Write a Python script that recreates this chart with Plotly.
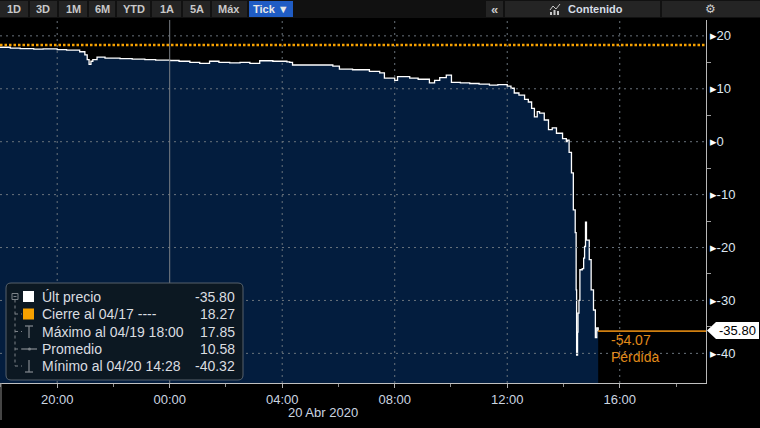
import plotly.graph_objects as go

# ---------------- data ----------------
times = [
    "2020-04-19 17:58", "2020-04-19 18:20", "2020-04-19 18:41", "2020-04-19 19:10", "2020-04-19 19:30",
    "2020-04-19 20:00", "2020-04-19 20:20", "2020-04-19 20:48", "2020-04-19 20:59", "2020-04-19 21:04",
    "2020-04-19 21:08", "2020-04-19 21:12", "2020-04-19 21:16", "2020-04-19 21:25", "2020-04-19 21:42",
    "2020-04-19 22:14", "2020-04-19 22:40", "2020-04-19 23:07", "2020-04-19 23:30", "2020-04-20 00:00",
    "2020-04-20 00:20", "2020-04-20 00:43", "2020-04-20 01:04", "2020-04-20 01:25", "2020-04-20 01:45",
    "2020-04-20 02:08", "2020-04-20 02:30", "2020-04-20 02:51", "2020-04-20 03:12", "2020-04-20 03:40",
    "2020-04-20 04:10", "2020-04-20 04:16", "2020-04-20 04:22", "2020-04-20 05:00", "2020-04-20 05:48",
    "2020-04-20 06:02", "2020-04-20 06:30", "2020-04-20 07:06", "2020-04-20 07:28", "2020-04-20 07:38",
    "2020-04-20 08:00", "2020-04-20 08:06", "2020-04-20 08:32", "2020-04-20 08:50", "2020-04-20 09:14",
    "2020-04-20 09:25", "2020-04-20 09:36", "2020-04-20 09:50", "2020-04-20 10:01", "2020-04-20 10:20",
    "2020-04-20 10:40", "2020-04-20 11:00", "2020-04-20 11:22", "2020-04-20 11:40", "2020-04-20 12:00",
    "2020-04-20 12:08", "2020-04-20 12:15", "2020-04-20 12:25", "2020-04-20 12:37", "2020-04-20 12:45",
    "2020-04-20 12:52", "2020-04-20 12:58", "2020-04-20 13:04", "2020-04-20 13:09", "2020-04-20 13:19",
    "2020-04-20 13:28", "2020-04-20 13:36", "2020-04-20 13:45", "2020-04-20 13:58", "2020-04-20 14:06",
    "2020-04-20 14:08", "2020-04-20 14:12", "2020-04-20 14:17", "2020-04-20 14:21", "2020-04-20 14:25",
    "2020-04-20 14:27", "2020-04-20 14:28", "2020-04-20 14:30", "2020-04-20 14:31", "2020-04-20 14:33",
    "2020-04-20 14:35", "2020-04-20 14:40", "2020-04-20 14:43", "2020-04-20 14:45", "2020-04-20 14:47",
    "2020-04-20 14:49", "2020-04-20 14:55", "2020-04-20 14:59", "2020-04-20 15:04", "2020-04-20 15:08",
    "2020-04-20 15:11", "2020-04-20 15:14",
]
prices = [
    17.85, 17.7, 17.6, 17.5, 17.55,
    17.4, 17.3, 17.0, 16.4, 15.5,
    14.6, 15.2, 15.5, 16.0, 15.8,
    15.7, 15.6, 15.5, 15.4, 15.35,
    15.2, 15.0, 14.8, 15.2, 15.0,
    14.9, 15.0, 14.8, 15.3, 15.2,
    15.1, 15.0, 14.5, 14.5, 14.3,
    13.7, 13.6, 13.3, 13.0, 12.0,
    11.6, 12.3, 12.0, 11.8, 11.1,
    11.6, 12.1, 12.6, 11.2, 11.1,
    11.0, 10.9, 10.7, 10.8, 10.5,
    10.1, 9.2, 8.8, 8.0, 7.5,
    6.3, 4.7, 5.7, 5.4, 4.1,
    2.3, 2.6, 1.6, 0.6, 0.0,
    0.3, -2.0, -5.9, -12.9, -17.2,
    -28.0, -40.32, -36.0, -32.4, -30.0,
    -24.2, -24.0, -22.0, -19.8, -15.2,
    -18.6, -22.3, -28.0, -31.8, -37.0,
    -35.2, -35.80,
]
last_price = -35.80
prev_close = 18.27
net_change = -54.07

legend_labels = ["Últ precio", "Cierre al 04/17 ----", "Máximo al 04/19 18:00", "Promedio", "Mínimo al 04/20 14:28"]
legend_values = ["-35.80", "18.27", "17.85", "10.58", "-40.32"]

y_ticks = [20, 10, 0, -10, -20, -30, -40]
y_minor = [15, 5, -5, -15, -25, -35]
x_ticks = ["2020-04-19 20:00", "2020-04-20 00:00", "2020-04-20 04:00",
           "2020-04-20 08:00", "2020-04-20 12:00", "2020-04-20 16:00"]
x_tick_labels = ["20:00", "00:00", "04:00", "08:00", "12:00", "16:00"]
x_minor = ["2020-04-19 18:00", "2020-04-19 22:00", "2020-04-20 02:00", "2020-04-20 06:00",
           "2020-04-20 10:00", "2020-04-20 14:00", "2020-04-20 18:00"]
day_break = "2020-04-20 00:00"
date_label = "20 Abr 2020"
x_range = ["2020-04-19 17:58", "2020-04-20 19:04"]
y_range = [-45.6, 23.0]

toolbar_left = ["1D", "3D", "1M", "6M", "YTD", "1A", "5A", "Máx", "Tick ▼"]

# ---------------- layout helpers ----------------
W, H = 760, 428
ML, MR, MT, MB = 0, 54, 20, 45
PW, PH = W - ML - MR, H - MT - MB


def px(x):
    return (x - ML) / PW


def py(y):
    return (MT + PH - y) / PH


FONT = "Liberation Sans, Arial, Roboto, sans-serif"
NAVY = "#031d3e"
ORANGE = "#f7a100"
ORANGE2 = "#e08a1a"
GRID = "#6a737c"
TXT = "#dadde0"

fig = go.Figure()

# baseline for area fill (bottom of the plot)
fig.add_trace(go.Scatter(x=times, y=[y_range[0]] * len(times), mode="lines",
                         line=dict(width=0, color=NAVY), hoverinfo="skip", showlegend=False))
fig.add_trace(go.Scatter(x=times, y=prices, mode="lines", fill="tonexty", fillcolor=NAVY,
                         line=dict(color="#ffffff", width=1.3, shape="hv"), showlegend=False))
# last price line to the axis
fig.add_trace(go.Scatter(x=[times[-1], x_range[1]], y=[last_price, last_price], mode="lines",
                         line=dict(color="#d07f10", width=1.6), showlegend=False, cliponaxis=False))

shapes = []
# grid lines above fill
for v in y_ticks:
    shapes.append(dict(type="line", xref="paper", yref="y", x0=0, x1=1, y0=v, y1=v,
                       line=dict(color=GRID, width=1, dash="2px,4px"), layer="above"))
for t in x_ticks:
    if t == day_break:
        continue
    shapes.append(dict(type="line", xref="x", yref="paper", x0=t, x1=t, y0=0, y1=1,
                       line=dict(color=GRID, width=1, dash="2px,4px"), layer="above"))
shapes.append(dict(type="line", xref="x", yref="paper", x0=day_break, x1=day_break, y0=0, y1=1,
                   line=dict(color="#7a7f85", width=1), layer="above"))
# previous close dotted line
shapes.append(dict(type="line", xref="paper", yref="y", x0=0, x1=1, y0=prev_close, y1=prev_close,
                   line=dict(color=ORANGE, width=2.5, dash="2.5px,2px"), layer="above"))


def rrect(x0, y0, x1, y1, r):
    return (f"M {px(x0 + r)},{py(y0)} L {px(x1 - r)},{py(y0)} Q {px(x1)},{py(y0)} {px(x1)},{py(y0 + r)} "
            f"L {px(x1)},{py(y1 - r)} Q {px(x1)},{py(y1)} {px(x1 - r)},{py(y1)} "
            f"L {px(x0 + r)},{py(y1)} Q {px(x0)},{py(y1)} {px(x0)},{py(y1 - r)} "
            f"L {px(x0)},{py(y0 + r)} Q {px(x0)},{py(y0)} {px(x0 + r)},{py(y0)} Z")


# legend box
shapes.append(dict(type="path", xref="paper", yref="paper", path=rrect(6, 283, 243, 380, 5),
                   fillcolor="#0c1822", line=dict(color="#56616b", width=1), layer="above"))
rows_y = [296.5, 314, 331.5, 349, 366]
gray = "#7c8288"
# tree lines
shapes.append(dict(type="rect", xref="paper", yref="paper", x0=px(12), x1=px(18), y0=py(293.5), y1=py(299.5),
                   line=dict(color=gray, width=1), layer="above"))
shapes.append(dict(type="line", xref="paper", yref="paper", x0=px(13.5), x1=px(16.5), y0=py(296.5), y1=py(296.5),
                   line=dict(color=gray, width=1), layer="above"))
shapes.append(dict(type="line", xref="paper", yref="paper", x0=px(15), x1=px(15), y0=py(299.5), y1=py(366),
                   line=dict(color=gray, width=1, dash="dot"), layer="above"))
for ry in rows_y[1:]:
    shapes.append(dict(type="line", xref="paper", yref="paper", x0=px(15), x1=px(22), y0=py(ry), y1=py(ry),
                       line=dict(color=gray, width=1, dash="dot"), layer="above"))
# icons
shapes.append(dict(type="rect", xref="paper", yref="paper", x0=px(23), x1=px(34), y0=py(291), y1=py(302),
                   fillcolor="#ffffff", line=dict(width=0), layer="above"))
shapes.append(dict(type="rect", xref="paper", yref="paper", x0=px(23), x1=px(34), y0=py(308.5), y1=py(319.5),
                   fillcolor=ORANGE, line=dict(width=0), layer="above"))
shapes.append(dict(type="line", xref="paper", yref="paper", x0=px(29), x1=px(29), y0=py(326), y1=py(338),
                   line=dict(color=gray, width=1.3), layer="above"))
shapes.append(dict(type="line", xref="paper", yref="paper", x0=px(25), x1=px(33), y0=py(326), y1=py(326),
                   line=dict(color=gray, width=1.3), layer="above"))
shapes.append(dict(type="line", xref="paper", yref="paper", x0=px(22), x1=px(37), y0=py(349), y1=py(349),
                   line=dict(color=gray, width=1.3), layer="above"))
shapes.append(dict(type="circle", xref="paper", yref="paper", x0=px(28), x1=px(31), y0=py(347.5), y1=py(350.5),
                   fillcolor=gray, line=dict(width=0), layer="above"))
shapes.append(dict(type="line", xref="paper", yref="paper", x0=px(29), x1=px(29), y0=py(360), y1=py(372),
                   line=dict(color=gray, width=1.3), layer="above"))
shapes.append(dict(type="line", xref="paper", yref="paper", x0=px(25), x1=px(33), y0=py(372), y1=py(372),
                   line=dict(color=gray, width=1.3), layer="above"))

# toolbar
shapes.append(dict(type="rect", xref="paper", yref="paper", x0=px(0), x1=px(760), y0=py(0), y1=py(18),
                   fillcolor="#111111", line=dict(width=0), layer="above"))
btn_spans = [(0, 28), (30, 57), (59, 87), (89, 115), (117, 150), (152, 181), (183, 210), (212, 247), (249, 293)]
for i, (a, b) in enumerate(btn_spans):
    shapes.append(dict(type="rect", xref="paper", yref="paper", x0=px(a), x1=px(b), y0=py(1), y1=py(17),
                       fillcolor="#1f5cc4" if i == len(btn_spans) - 1 else "#242424",
                       line=dict(width=0), layer="above"))
for a, b in [(486, 503), (505, 660), (662, 760)]:
    shapes.append(dict(type="rect", xref="paper", yref="paper", x0=px(a), x1=px(b), y0=py(1), y1=py(17),
                       fillcolor="#242424", line=dict(width=0), layer="above"))
# "Contenido" icon
shapes.append(dict(type="path", xref="paper", yref="paper",
                   path=f"M {px(550)},{py(10)} L {px(553)},{py(6)} L {px(556)},{py(9)} L {px(560)},{py(4)}",
                   line=dict(color="#c8c8c8", width=1), layer="above"))
for a, b, top in [(550, 552, 12), (553.5, 555.5, 10), (557, 559, 11)]:
    shapes.append(dict(type="rect", xref="paper", yref="paper", x0=px(a), x1=px(b), y0=py(top), y1=py(15),
                       fillcolor="#c8c8c8", line=dict(width=0), layer="above"))

# last price tag
tag = (f"M {px(707)},{py(330.5)} L {px(716)},{py(322)} L {px(759)},{py(322)} "
       f"L {px(759)},{py(339)} L {px(716)},{py(339)} Z")
shapes.append(dict(type="path", xref="paper", yref="paper", path=tag, fillcolor="#ffffff",
                   line=dict(width=0), layer="above"))
# left edge line under axis
shapes.append(dict(type="line", xref="paper", yref="paper", x0=px(1), x1=px(1), y0=py(383), y1=py(420),
                   line=dict(color="#8a8a8a", width=1), layer="above"))

annotations = []
for i, (lab, val) in enumerate(zip(legend_labels, legend_values)):
    annotations.append(dict(xref="paper", yref="paper", x=px(40), y=py(rows_y[i]), text=lab,
                            xanchor="left", yanchor="middle", showarrow=False,
                            font=dict(family=FONT, size=14, color=TXT)))
    annotations.append(dict(xref="paper", yref="paper", x=px(237), y=py(rows_y[i]), text=val,
                            xanchor="right", yanchor="middle", showarrow=False,
                            font=dict(family=FONT, size=14, color=TXT)))
annotations.append(dict(xref="paper", yref="paper", x=px(323), y=py(412), text=date_label,
                        xanchor="center", yanchor="middle", showarrow=False,
                        font=dict(family=FONT, size=13, color="#ccd6e0")))
annotations.append(dict(xref="paper", yref="paper", x=px(609), y=py(340), text=f"{net_change:.2f}",
                        xanchor="left", yanchor="middle", showarrow=False,
                        font=dict(family=FONT, size=14, color=ORANGE2)))
annotations.append(dict(xref="paper", yref="paper", x=px(609), y=py(357), text="Pérdida",
                        xanchor="left", yanchor="middle", showarrow=False,
                        font=dict(family=FONT, size=14, color=ORANGE2)))
annotations.append(dict(xref="paper", yref="paper", x=px(738), y=py(330.5), text=f"{last_price:.2f}",
                        xanchor="center", yanchor="middle", showarrow=False,
                        font=dict(family=FONT, size=13, color="#000000")))
btn_centers = [14, 43, 73, 102, 134, 167, 197, 229, 271]
for lab, cx in zip(toolbar_left, btn_centers):
    annotations.append(dict(xref="paper", yref="paper", x=px(cx), y=py(9), text=f"<b>{lab}</b>",
                            xanchor="center", yanchor="middle", showarrow=False,
                            font=dict(family=FONT, size=11, color="#e8e8e8" if "Tick" in lab else "#c8c8c8")))
annotations.append(dict(xref="paper", yref="paper", x=px(494), y=py(9), text="<b>«</b>",
                        xanchor="center", yanchor="middle", showarrow=False,
                        font=dict(family=FONT, size=13, color="#c8c8c8")))
annotations.append(dict(xref="paper", yref="paper", x=px(566), y=py(9), text="<b>Contenido</b>",
                        xanchor="left", yanchor="middle", showarrow=False,
                        font=dict(family=FONT, size=11, color="#d6dde6")))
annotations.append(dict(xref="paper", yref="paper", x=px(710), y=py(9), text="⚙",
                        xanchor="center", yanchor="middle", showarrow=False,
                        font=dict(family="DejaVu Sans", size=12, color="#cccccc")))

fig.update_layout(
    width=W, height=H,
    margin=dict(l=ML, r=MR, t=MT, b=MB, autoexpand=False),
    paper_bgcolor="#000000", plot_bgcolor="#000000",
    showlegend=False,
    shapes=shapes, annotations=annotations,
    font=dict(family=FONT, color=TXT),
    xaxis=dict(type="date", range=x_range, tickvals=x_ticks, ticktext=x_tick_labels,
               showgrid=False, zeroline=False, showline=True, linecolor="#c0c0c0", linewidth=1,
               ticks="outside", ticklen=4, tickcolor="#b0b0b0",
               minor=dict(tickvals=x_minor, ticks="outside", ticklen=3, tickcolor="#909090", showgrid=False),
               tickfont=dict(family=FONT, size=13, color="#ccd6e0"), fixedrange=True),
    yaxis=dict(range=y_range, side="right", tickvals=y_ticks,
               ticktext=[f'<span style="color:#ffffff">▸</span>{v}' for v in y_ticks],
               showgrid=False, zeroline=False, showline=True, linecolor="#b8b8b8", linewidth=1,
               ticks="", minor=dict(tickvals=y_minor, ticks="outside", ticklen=4, tickcolor="#a0a0a0",
                                    showgrid=False),
               tickfont=dict(family=FONT, size=13, color="#dde6f0"), fixedrange=True),
)

fig.write_html("out.html", config={"displayModeBar": False},
               post_script="document.body.style.margin='0';document.body.style.overflow='hidden';document.body.style.background='#000';")
